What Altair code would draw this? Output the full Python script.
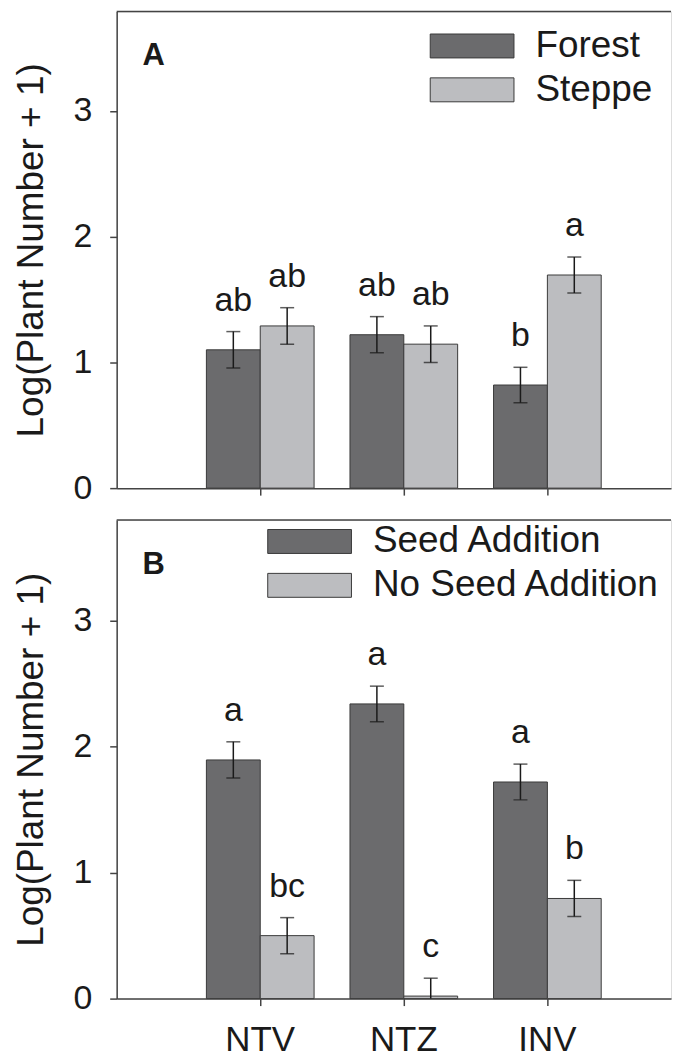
import altair as alt
import pandas as pd

FONT = "Liberation Sans"
DARK = "#6b6b6d"
LIGHT = "#bcbdc0"
EDGE = "#3a3a3a"
INK = "#1a1a1a"

categories = ["NTV", "NTZ", "INV"]

# Panel A: habitat of seed source
habitat_groups = ["Forest", "Steppe"]
forest_mean = [1.10, 1.22, 0.82]
forest_se = [0.145, 0.144, 0.141]
forest_letters = ["ab", "ab", "b"]
steppe_mean = [1.29, 1.145, 1.695]
steppe_se = [0.145, 0.145, 0.143]
steppe_letters = ["ab", "ab", "a"]

# Panel B: seed addition treatment
seed_groups = ["Seed Addition", "No Seed Addition"]
seed_mean = [1.895, 2.34, 1.72]
seed_se = [0.144, 0.141, 0.142]
seed_letters = ["a", "a", "a"]
noseed_mean = [0.50, 0.02, 0.795]
noseed_se = [0.143, 0.142, 0.144]
noseed_letters = ["bc", "c", "b"]

W = 556
STEP = 144.0
P_IN = 0.25
LEFT_GAP = 90.0  # plot edge to first bar
total_steps = W / STEP
P_OUT = (total_steps - (3 - P_IN)) / 2
ALIGN = LEFT_GAP / (W - STEP * (3 - P_IN))


def make_df(groups, means_list, se_list, letters_list):
    rows = []
    for g, means, ses, lets in zip(groups, means_list, se_list, letters_list):
        for c, m, s, l in zip(categories, means, ses, lets):
            rows.append({"cat": c, "group": g, "mean": m,
                         "lo": m - s, "hi": m + s, "letter": l})
    return pd.DataFrame(rows)


def panel(df, groups, tag, height, ymax, show_labels, lx, ly):
    xscale = alt.Scale(paddingInner=P_IN, paddingOuter=P_OUT, align=ALIGN)
    xaxis = alt.Axis(
        title=None, labels=show_labels, ticks=True, tickSize=7, tickWidth=1.5,
        tickColor="#444", domainColor="#444", domainWidth=1.5,
        labelFont=FONT, labelFontSize=35, labelColor=INK, labelPadding=17,
        labelAngle=0, labelBaseline="top",
    )
    x = alt.X("cat:N", sort=categories, scale=xscale, axis=xaxis)
    xo = alt.XOffset("group:N", sort=groups,
                     scale=alt.Scale(domain=groups, paddingInner=0, paddingOuter=0))
    yscale = alt.Scale(domain=[0, ymax], nice=False, zero=True)
    title = "Log(Plant Number + 1)"
    yaxis = alt.Axis(
        title=title, values=[0, 1, 2, 3], format="d", grid=False,
        tickSize=7, tickWidth=1.5, tickColor="#444", domainColor="#444",
        domainWidth=1.5, labelFont=FONT, labelFontSize=34, labelColor=INK,
        labelPadding=18, titleFont=FONT, titleFontSize=37, titleFontWeight="normal",
        titleColor=INK, titlePadding=22,
    )
    base = alt.Chart(df).encode(x=x, xOffset=xo)
    bars = base.mark_bar(stroke=EDGE, strokeWidth=1, opacity=1).encode(
        y=alt.Y("mean:Q", scale=yscale, axis=yaxis, title=title),
        color=alt.Color(
            "group:N", sort=groups,
            scale=alt.Scale(domain=groups, range=[DARK, LIGHT]),
            legend=alt.Legend(
                title=None, orient="none", legendX=lx, legendY=ly,
                symbolType="M-3.5,-1L3.5,-1L3.5,1L-3.5,1Z", symbolSize=576,
                symbolStrokeColor=EDGE, symbolStrokeWidth=1, symbolOpacity=1,
                labelFont=FONT, labelFontSize=37, labelColor=INK,
                labelOffset=45, rowPadding=6, padding=0, labelLimit=400,
            ),
        ),
    )
    rules = base.mark_rule(color=INK, strokeWidth=1.5, clip=True).encode(
        y=alt.Y("lo:Q", scale=yscale, title=title), y2="hi:Q")
    cap_hi = base.mark_tick(color=INK, thickness=1.5, size=14).encode(
        y=alt.Y("hi:Q", scale=yscale, title=title))
    cap_lo = base.mark_tick(color=INK, thickness=1.5, size=14, clip=True).encode(
        y=alt.Y("lo:Q", scale=yscale, title=title))
    letters = base.mark_text(font=FONT, fontSize=34, color=INK,
                             baseline="alphabetic", dy=-21).encode(
        y=alt.Y("hi:Q", scale=yscale, title=title), text="letter:N")
    one = pd.DataFrame({"k": [0]})
    top = alt.Chart(one).mark_rule(color="#444", strokeWidth=1.5).encode(
        x=alt.value(0), x2=alt.value(W), y=alt.value(0))
    tagtext = alt.Chart(one).mark_text(
        text=tag, font=FONT, fontSize=31, fontWeight="bold", color=INK,
        align="left", baseline="alphabetic").encode(x=alt.value(26), y=alt.value(54))
    return alt.layer(bars, rules, cap_hi, cap_lo, letters, top, tagtext).properties(
        width=W, height=height)


dfA = make_df(habitat_groups, [forest_mean, steppe_mean], [forest_se, steppe_se],
              [forest_letters, steppe_letters])
dfB = make_df(seed_groups, [seed_mean, noseed_mean], [seed_se, noseed_se],
              [seed_letters, noseed_letters])

pA = panel(dfA, habitat_groups, "A", 478, 3.79, False, 338, 16)
pB = panel(dfB, seed_groups, "B", 480, 3.8, True, 175, 3)

chart = alt.vconcat(pA, pB, spacing=12).resolve_scale(
    color="independent", x="independent", xOffset="independent", y="independent"
).configure_view(stroke=None).configure(
    padding={"left": 4, "top": 0, "right": 0, "bottom": 0}
)

chart.save("out.html", embed_options={"renderer": "svg", "actions": False})
